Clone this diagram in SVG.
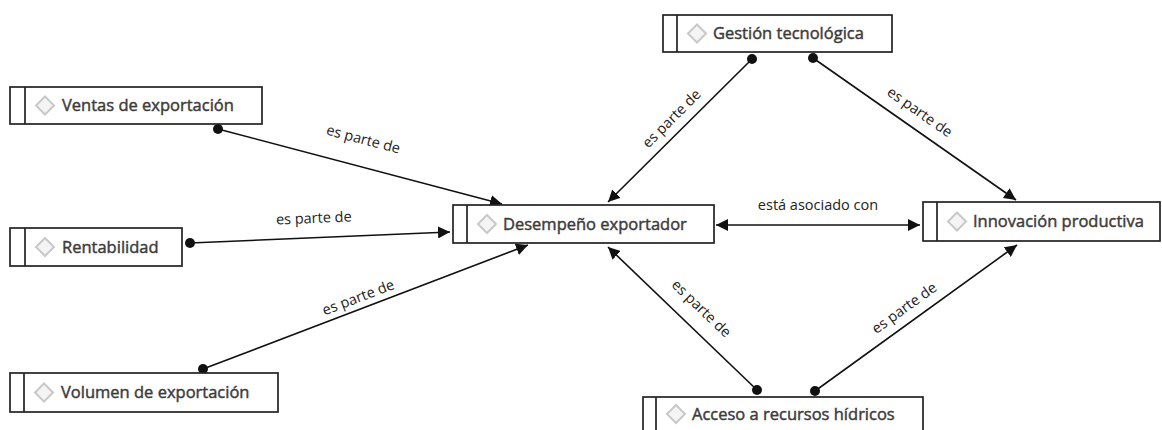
<svg xmlns="http://www.w3.org/2000/svg" width="1162" height="430" viewBox="0 0 1162 430">
<defs>
<marker id="arr" viewBox="0 0 10 10" refX="10" refY="5" markerWidth="12" markerHeight="12" markerUnits="userSpaceOnUse" orient="auto-start-reverse">
<path d="M0,0 L10,5 L0,10 z" fill="#111"/>
</marker>
<marker id="dot" viewBox="0 0 10 10" refX="5" refY="5" markerWidth="10" markerHeight="10" markerUnits="userSpaceOnUse">
<circle cx="5" cy="5" r="5" fill="#111"/>
</marker>
<path id="dia" d="M0,-9 L9,0 L0,9 L-9,0 z"/>
</defs>
<style>
.box{fill:#fff;stroke:#222;stroke-width:1.7}
.div{stroke:#222;stroke-width:1.7}
.ico{fill:#f4f4f4;stroke:#c8c8c8;stroke-width:2}
.nt{font-family:"Segoe UI","Open Sans","Noto Sans",sans-serif;font-size:16.5px;fill:#3c3c3c;stroke:#3c3c3c;stroke-width:0.45}
.lbl{font-family:"Segoe UI","Open Sans","Noto Sans",sans-serif;font-size:14.5px;fill:#222;text-anchor:middle}
.ln{stroke:#111;stroke-width:1.6;fill:none}
</style>
<rect width="1162" height="430" fill="#fff"/>
<g id="connectors">
<line class="ln" x1="218" y1="129" x2="502" y2="204" marker-start="url(#dot)" marker-end="url(#arr)"/>
<text class="lbl" transform="translate(362,144) rotate(14.8)">es parte de</text>
<line class="ln" x1="190" y1="243" x2="450" y2="232" marker-start="url(#dot)" marker-end="url(#arr)"/>
<text class="lbl" transform="translate(314,223) rotate(-2.4)">es parte de</text>
<line class="ln" x1="203" y1="369" x2="528" y2="245" marker-start="url(#dot)" marker-end="url(#arr)"/>
<text class="lbl" transform="translate(360,302) rotate(-20.9)">es parte de</text>
<line class="ln" x1="752" y1="59" x2="608" y2="202" marker-start="url(#dot)" marker-end="url(#arr)"/>
<text class="lbl" transform="translate(675,122) rotate(-44.8)">es parte de</text>
<line class="ln" x1="813" y1="58" x2="1016" y2="200" marker-start="url(#dot)" marker-end="url(#arr)"/>
<text class="lbl" transform="translate(917,116) rotate(35)">es parte de</text>
<line class="ln" x1="716" y1="225" x2="920" y2="225" marker-start="url(#arr)" marker-end="url(#arr)"/>
<text class="lbl" x="818" y="210">está asociado con</text>
<line class="ln" x1="757" y1="390" x2="608" y2="247" marker-start="url(#dot)" marker-end="url(#arr)"/>
<text class="lbl" transform="translate(698,312) rotate(43.8)">es parte de</text>
<line class="ln" x1="815" y1="391" x2="1017" y2="245" marker-start="url(#dot)" marker-end="url(#arr)"/>
<text class="lbl" transform="translate(907,312) rotate(-35.8)">es parte de</text>
</g>
<g id="n-ventas">
<rect class="box" x="10" y="87" width="252" height="37"/>
<line class="div" x1="25" y1="87" x2="25" y2="124"/>
<use href="#dia" class="ico" x="45" y="105.5"/>
<text class="nt" x="62" y="111">Ventas de exportación</text>
</g>
<g id="n-rentabilidad">
<rect class="box" x="10" y="228" width="172" height="38"/>
<line class="div" x1="25" y1="228" x2="25" y2="266"/>
<use href="#dia" class="ico" x="45" y="247"/>
<text class="nt" x="62" y="252.5">Rentabilidad</text>
</g>
<g id="n-volumen">
<rect class="box" x="10" y="373" width="268" height="39"/>
<line class="div" x1="24" y1="373" x2="24" y2="412"/>
<use href="#dia" class="ico" x="44" y="392.5"/>
<text class="nt" x="61" y="398">Volumen de exportación</text>
</g>
<g id="n-desempeno">
<rect class="box" x="453" y="205" width="261" height="38"/>
<line class="div" x1="467" y1="205" x2="467" y2="243"/>
<use href="#dia" class="ico" x="487" y="224"/>
<text class="nt" x="503" y="229.5">Desempeño exportador</text>
</g>
<g id="n-gestion">
<rect class="box" x="663" y="15" width="229" height="37"/>
<line class="div" x1="677" y1="15" x2="677" y2="52"/>
<use href="#dia" class="ico" x="697" y="33.5"/>
<text class="nt" x="713" y="39">Gestión tecnológica</text>
</g>
<g id="n-innovacion">
<rect class="box" x="923" y="202" width="237" height="39"/>
<line class="div" x1="937" y1="202" x2="937" y2="241"/>
<use href="#dia" class="ico" x="957" y="221.5"/>
<text class="nt" x="973" y="227">Innovación productiva</text>
</g>
<g id="n-acceso">
<rect class="box" x="643" y="397" width="280" height="40"/>
<line class="div" x1="656" y1="397" x2="656" y2="437"/>
<use href="#dia" class="ico" x="676" y="414"/>
<text class="nt" x="692" y="419.5">Acceso a recursos hídricos</text>
</g>
</svg>
